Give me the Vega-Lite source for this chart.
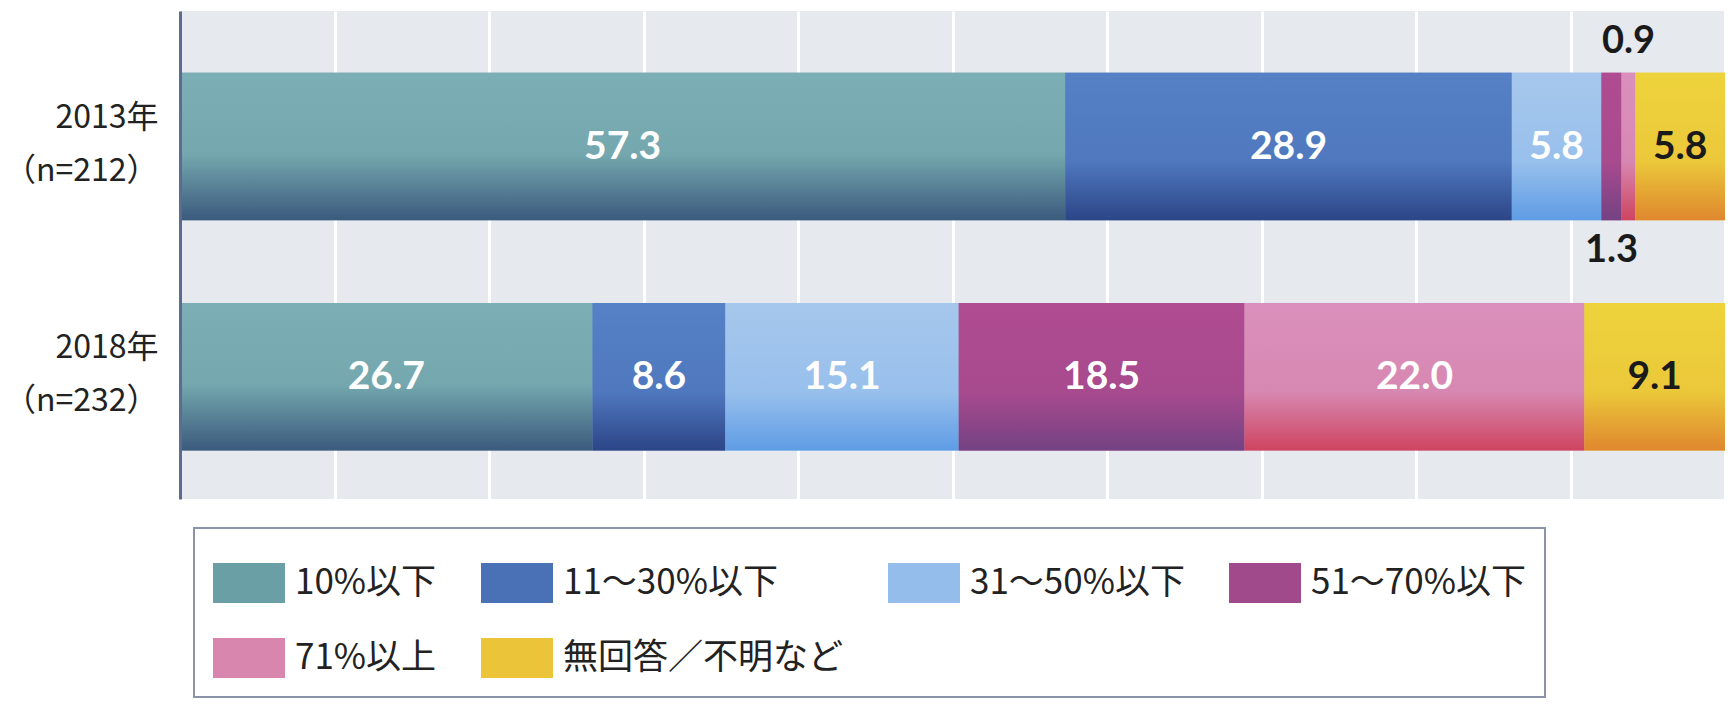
{
  "$schema": "https://vega.github.io/schema/vega-lite/v6.json",
  "width": 1545,
  "height": 488,
  "autosize": {"type": "none"},
  "padding": {"left": 180, "top": 11, "right": 6, "bottom": 212},
  "background": "white",
  "config": {
    "view": {"fill": "#E6E9EE", "stroke": null},
    "font": "Noto Sans CJK JP",
    "legend": {"strokeWidth": 2}
  },
  "data": {
    "values": [
      {"year": "2013年|（n=212）", "cat": "10%以下", "order": 1, "value": 57.3},
      {"year": "2013年|（n=212）", "cat": "11～30%以下", "order": 2, "value": 28.9},
      {"year": "2013年|（n=212）", "cat": "31～50%以下", "order": 3, "value": 5.8},
      {"year": "2013年|（n=212）", "cat": "51～70%以下", "order": 4, "value": 1.3},
      {"year": "2013年|（n=212）", "cat": "71%以上", "order": 5, "value": 0.9},
      {"year": "2013年|（n=212）", "cat": "無回答／不明など", "order": 6, "value": 5.8},
      {"year": "2018年|（n=232）", "cat": "10%以下", "order": 1, "value": 26.7},
      {"year": "2018年|（n=232）", "cat": "11～30%以下", "order": 2, "value": 8.6},
      {"year": "2018年|（n=232）", "cat": "31～50%以下", "order": 3, "value": 15.1},
      {"year": "2018年|（n=232）", "cat": "51～70%以下", "order": 4, "value": 18.5},
      {"year": "2018年|（n=232）", "cat": "71%以上", "order": 5, "value": 22.0},
      {"year": "2018年|（n=232）", "cat": "無回答／不明など", "order": 6, "value": 9.1}
    ]
  },
  "transform": [
    {"stack": "value", "groupby": ["year"], "sort": [{"field": "order", "order": "ascending"}], "as": ["x0", "x1"]},
    {"calculate": "(datum.x0 + datum.x1) / 2", "as": "mid"}
  ],
  "encoding": {
    "y": {
      "field": "year", "type": "nominal", "sort": null,
      "scale": {"paddingInner": 0.36, "paddingOuter": 0.24, "align": 0.56},
      "axis": {
        "title": null, "ticks": false, "labelExpr": "split(datum.value, '|')",
        "labelFontSize": 32, "labelColor": "#222222", "labelLineHeight": 53,
        "labelPadding": 22, "labelOffset": -29, "domainColor": "#5D6B8E", "domainWidth": 3, "zindex": 2,
        "labelFont": "Noto Sans CJK JP"
      }
    }
  },
  "layer": [
    {
      "encoding": {
        "x": {
          "field": "x0", "type": "quantitative",
          "scale": {"domain": [0, 100], "nice": false, "zero": true},
          "axis": {
            "title": null, "labels": false, "ticks": false, "domain": false,
            "grid": true, "gridColor": "white", "gridWidth": 3,
            "values": [10, 20, 30, 40, 50, 60, 70, 80, 90, 100]
          }
        },
        "x2": {"field": "x1"}
      },
      "layer": [
        {
          "mark": {"type": "bar"},
          "encoding": {
            "color": {
              "field": "cat", "type": "nominal",
              "sort": ["10%以下", "11～30%以下", "31～50%以下", "51～70%以下", "71%以上", "無回答／不明など"],
              "scale": {
                "domain": ["10%以下", "11～30%以下", "31～50%以下", "51～70%以下", "71%以上", "無回答／不明など"],
                "range": ["#6A9FA6", "#4A70B6", "#94BDEB", "#A04A8C", "#D886AE", "#EBC43A"]
              },
              "legend": {
                "title": null, "orient": "none", "legendX": 14, "legendY": 517,
                "columns": 4, "gridAlign": "none", "direction": "horizontal",
                "symbolType": "M-1,-0.555H1V0.555H-1Z", "symbolSize": 5184, "symbolStrokeWidth": 0,
                "labelFont": "Noto Sans CJK JP", "labelFontSize": 35, "labelColor": "#222222",
                "labelOffset": 10, "columnPadding": 44, "rowPadding": 19, "labelLimit": 0,
                "padding": 19, "strokeColor": "#8A93A8", "fillColor": "white"
              }
            }
          }
        },
        {
          "transform": [{"filter": "datum.cat == '10%以下'"}],
          "mark": {"type": "bar", "color": {"gradient": "linear", "x1": 0, "y1": 0, "x2": 0, "y2": 1, "stops": [{"offset": 0, "color": "#7CAFB5"}, {"offset": 0.55, "color": "#74A8AE"}, {"offset": 1, "color": "#3B5A7D"}]}}
        },
        {
          "transform": [{"filter": "datum.cat == '11～30%以下'"}],
          "mark": {"type": "bar", "color": {"gradient": "linear", "x1": 0, "y1": 0, "x2": 0, "y2": 1, "stops": [{"offset": 0, "color": "#5681C7"}, {"offset": 0.6, "color": "#4F78BE"}, {"offset": 1, "color": "#2C4587"}]}}
        },
        {
          "transform": [{"filter": "datum.cat == '31～50%以下'"}],
          "mark": {"type": "bar", "color": {"gradient": "linear", "x1": 0, "y1": 0, "x2": 0, "y2": 1, "stops": [{"offset": 0, "color": "#A6C7EC"}, {"offset": 0.6, "color": "#98C0EC"}, {"offset": 1, "color": "#5F9CE5"}]}}
        },
        {
          "transform": [{"filter": "datum.cat == '51～70%以下'"}],
          "mark": {"type": "bar", "color": {"gradient": "linear", "x1": 0, "y1": 0, "x2": 0, "y2": 1, "stops": [{"offset": 0, "color": "#B04C91"}, {"offset": 0.6, "color": "#A84A8E"}, {"offset": 1, "color": "#744283"}]}}
        },
        {
          "transform": [{"filter": "datum.cat == '71%以上'"}],
          "mark": {"type": "bar", "color": {"gradient": "linear", "x1": 0, "y1": 0, "x2": 0, "y2": 1, "stops": [{"offset": 0, "color": "#DA90BC"}, {"offset": 0.6, "color": "#D788B2"}, {"offset": 1, "color": "#CE4460"}]}}
        },
        {
          "transform": [{"filter": "datum.cat == '無回答／不明など'"}],
          "mark": {"type": "bar", "color": {"gradient": "linear", "x1": 0, "y1": 0, "x2": 0, "y2": 1, "stops": [{"offset": 0, "color": "#EED33B"}, {"offset": 0.6, "color": "#EBC83A"}, {"offset": 1, "color": "#DF872E"}]}}
        }
      ]
    },
    {
      "transform": [{"filter": "datum.value >= 3"}],
      "mark": {"type": "text", "font": "Lato", "fontWeight": "bold", "fontSize": 39, "baseline": "middle", "align": "center"},
      "encoding": {
        "x": {"field": "mid", "type": "quantitative"},
        "text": {"field": "value", "type": "quantitative", "format": ".1f"},
        "color": {"condition": {"test": "datum.cat == '無回答／不明など'", "value": "#1a1a1a"}, "value": "white"}
      }
    },
    {
      "transform": [{"filter": "datum.value < 1"}],
      "mark": {"type": "text", "font": "Lato", "fontWeight": "bold", "fontSize": 38, "baseline": "middle", "align": "center", "dy": -105, "color": "#1a1a1a"},
      "encoding": {
        "x": {"field": "mid", "type": "quantitative"},
        "text": {"field": "value", "type": "quantitative", "format": ".1f"}
      }
    },
    {
      "transform": [{"filter": "datum.value >= 1 && datum.value < 3"}],
      "mark": {"type": "text", "font": "Lato", "fontWeight": "bold", "fontSize": 38, "baseline": "middle", "align": "center", "dy": 104, "color": "#1a1a1a"},
      "encoding": {
        "x": {"field": "mid", "type": "quantitative"},
        "text": {"field": "value", "type": "quantitative", "format": ".1f"}
      }
    }
  ]
}
